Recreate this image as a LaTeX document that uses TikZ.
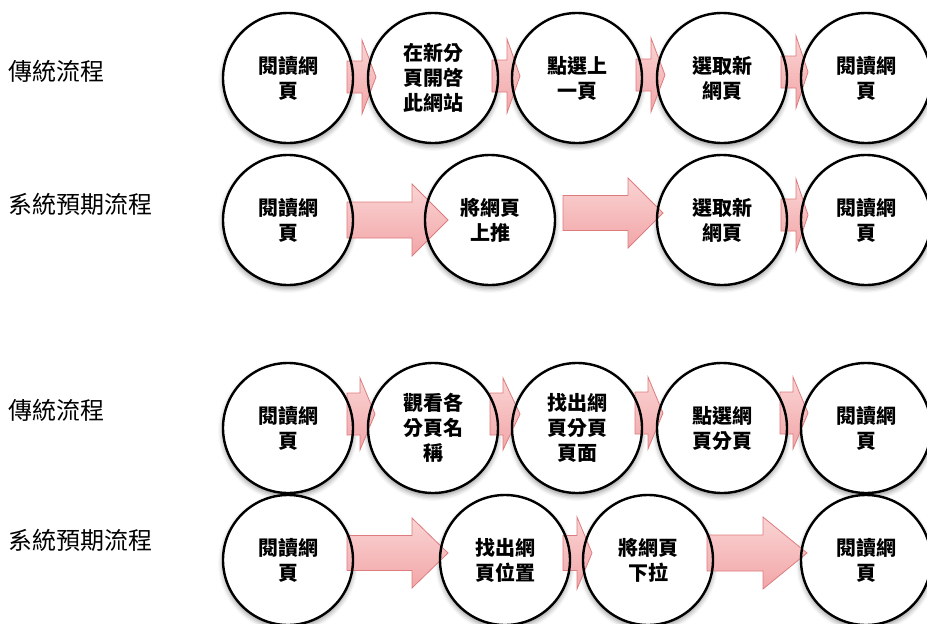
\documentclass[tikz,border=0pt]{standalone}
\usepackage{fontspec}
\newfontfamily\cjk{Noto Sans CJK TC}
\usetikzlibrary{shadows.blur}
\pgfdeclarelayer{bg}
\pgfsetlayers{bg,main}
\definecolor{arrowtop}{RGB}{250,212,212}
\definecolor{arrowmid}{RGB}{246,186,188}
\definecolor{arrowbot}{RGB}{242,166,168}
\definecolor{arrowedge}{RGB}{220,124,126}
\tikzset{
  stage/.style={circle, draw=black, line width=2.4pt, minimum size=130pt,
    inner sep=0pt, align=center,
    font=\cjk\bfseries\fontsize{20}{25}\selectfont},
  lanelabel/.style={anchor=west, inner sep=0pt,
    font=\cjk\fontsize{24}{24}\selectfont},
  disc/.style={fill=white, blur shadow={shadow xshift=0pt, shadow yshift=-3pt,
    shadow blur radius=5pt, shadow opacity=45}},
  blockarrow/.style={draw=arrowedge, line width=0.8pt, shading=axis,
    shading angle=0, top color=arrowtop, middle color=arrowmid,
    bottom color=arrowbot, line join=miter},
}
% block arrow from stage #1 to stage #2:
% #3 body start and #4 head start (x offsets from #1), #5 tip (x offset from #2),
% #6 vertical offset of the axis, #7 half body height, #8 half head height
\newcommand{\flowarrow}[8]{%
  \path[blockarrow]
    ([shift={(#3,{#6-#7})}]#1.center) -- ([shift={(#4,{#6-#7})}]#1.center)
    -- ([shift={(#4,{#6-#8})}]#1.center) -- ([shift={(#5,#6)}]#2.center)
    -- ([shift={(#4,{#6+#8})}]#1.center) -- ([shift={(#4,{#6+#7})}]#1.center)
    -- ([shift={(#3,{#6+#7})}]#1.center) -- cycle;}
\begin{document}
\begin{tikzpicture}[x=1pt,y=-1pt]
\useasboundingbox (0,0) rectangle (927,624);

% lane titles
\node[lanelabel] (L1) at (8,71)  {傳統流程};
\node[lanelabel] (L2) at (8,204) {系統預期流程};
\node[lanelabel] (L3) at (8,410) {傳統流程};
\node[lanelabel] (L4) at (8,540) {系統預期流程};

% first traditional flow
\node[stage] (A1) at (288,78) {閱讀網\\頁};
\node[stage] (A2) at (433,78) {在新分\\頁開啓\\此網站};
\node[stage] (A3) at (577,78) {點選上\\一頁};
\node[stage] (A4) at (722,78) {選取新\\網頁};
\node[stage] (A5) at (866,78) {閱讀網\\頁};

% first expected flow
\node[stage] (B1) at (288,220) {閱讀網\\頁};
\node[stage] (B2) at (490,220) {將網頁\\上推};
\node[stage] (B3) at (722,220) {選取新\\網頁};
\node[stage] (B4) at (866,220) {閱讀網\\頁};

% second traditional flow
\node[stage] (C1) at (288,428) {閱讀網\\頁};
\node[stage] (C2) at (433,428) {觀看各\\分頁名\\稱};
\node[stage] (C3) at (577,428) {找出網\\頁分頁\\頁面};
\node[stage] (C4) at (722,428) {點選網\\頁分頁};
\node[stage] (C5) at (866,428) {閱讀網\\頁};

% second expected flow
\node[stage] (D1) at (288,560) {閱讀網\\頁};
\node[stage] (D2) at (505,560) {找出網\\頁位置};
\node[stage] (D3) at (648,560) {將網頁\\下拉};
\node[stage] (D4) at (866,560) {閱讀網\\頁};

\begin{pgfonlayer}{bg}
  \foreach \n in {A1,A2,A3,A4,A5,B1,B2,B3,B4,C1,C2,C3,C4,C5,D1,D2,D3,D4}
    \path[disc] (\n.center) circle (65pt);

  \flowarrow{A1}{A2}{59}{74}{-57}{-1}{16}{37}
  \flowarrow{A2}{A3}{59}{74}{-57}{-2}{16}{37}
  \flowarrow{A3}{A4}{59}{74}{-57}{-3}{16}{37}
  \flowarrow{A4}{A5}{59}{74}{-58}{-6}{16}{36}

  \flowarrow{B1}{B2}{59}{124}{-42}{0}{18}{36}
  \flowarrow{B2}{B3}{73}{138}{-59}{-7}{17.5}{35}
  \flowarrow{B3}{B4}{59}{74}{-58}{-5}{16}{36}

  \flowarrow{C1}{C2}{59}{72}{-58}{-14}{21}{36}
  \flowarrow{C2}{C3}{57}{70}{-57}{-14}{21}{36}
  \flowarrow{C3}{C4}{58}{71}{-59}{-15}{21}{36}
  \flowarrow{C4}{C5}{58}{71}{-58}{-15}{21}{36}

  \flowarrow{D1}{D2}{59}{124}{-57}{-7}{17.5}{35}
  \flowarrow{D2}{D3}{58}{72}{-56}{-7}{17.5}{36}
  \flowarrow{D3}{D4}{59}{115}{-59}{-7}{18}{36}
\end{pgfonlayer}
\end{tikzpicture}
\end{document}
